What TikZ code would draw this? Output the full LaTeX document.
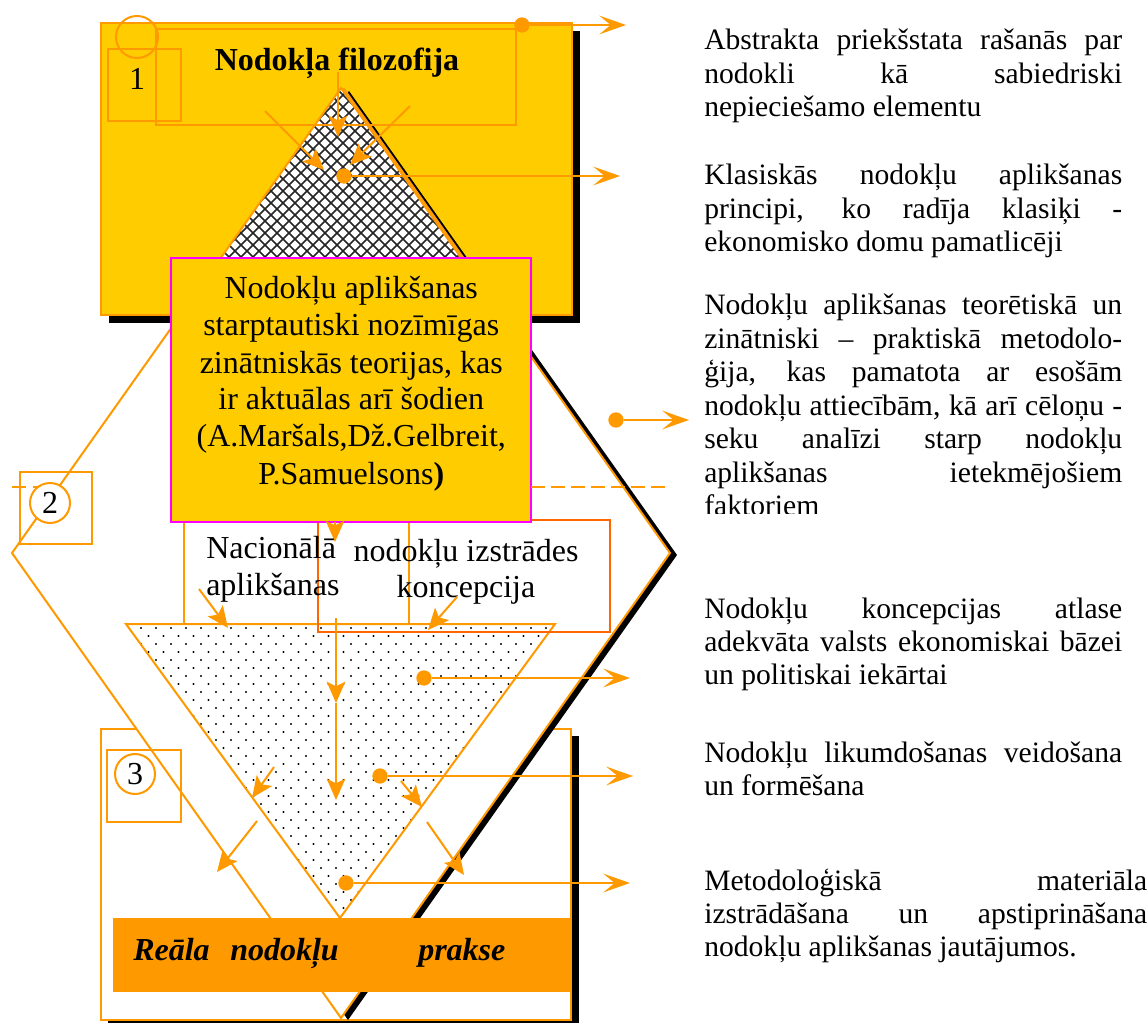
\documentclass[tikz,border=0pt]{standalone}
\usepackage{fontspec}
\setmainfont{Liberation Serif}
\usetikzlibrary{arrows.meta}
\definecolor{yel}{HTML}{FFCC00}
\definecolor{org}{HTML}{FF9900}
\definecolor{redo}{HTML}{FF6600}
\definecolor{mag}{HTML}{FF00FF}
\newdimen\colw
\newcommand\jrow[1]{\hbox to\colw{#1}}
\newcommand\lastrow[1]{\hbox{#1}}
\newcommand\crow[1]{\hbox to\colw{\hfil#1\hfil}}

\begin{document}
\begin{tikzpicture}[x=0.75pt,y=-0.75pt,
  ln/.style={draw=org,line width=1.5pt},
  frame/.style={draw=org,line width=1.5pt},
  arr/.style={ln,-{Stealth[length=16pt,width=14pt,inset=3.5pt]}},
  farr/.style={ln,-{Stealth[length=20pt,width=14pt,inset=8.5pt]}},
  dot/.style={circle,fill=org,inner sep=0pt,minimum size=11.5pt},
  txt/.style={inner sep=0pt,font=\fontsize{22.2}{25.1}\selectfont},
  big/.style={inner sep=0pt,font=\fontsize{24}{27.75}\selectfont},
  bigb/.style={inner sep=0pt,font=\fontsize{24}{27.75}\selectfont\bfseries},
  bigbi/.style={inner sep=0pt,font=\fontsize{24}{27.75}\selectfont\bfseries\itshape},
  numc/.style={circle,draw=org,line width=1.5pt,inner sep=0pt,minimum size=30pt},
  hatch/.style={draw=black!85,line width=1.1pt},
]
\useasboundingbox (0,0) rectangle (1148,1023);

% ---------- block 3 frame (back layer) ----------
\fill[black] (108,736) rectangle (579,1030);
\draw[frame,fill=white] (101,729) rectangle (571,1020);

% ---------- large diamond with shadow ----------
\coordinate (dT) at (341,88);
\coordinate (dR) at (670,553);
\coordinate (dB) at (341,1018);
\coordinate (dL) at (12,553);
\fill[black] ([shift={(7,2)}]dT) -- ([shift={(7,2)}]dR) -- ([shift={(7,2)}]dB) -- ([shift={(7,2)}]dL) -- cycle;
\draw[ln,fill=white,line join=miter] (dT) -- (dR) -- (dB) -- (dL) -- cycle;

% ---------- block 1: yellow panel ----------
\fill[black] (109,31) rectangle (580,323);
\draw[frame,fill=yel] (101,23) rectangle (572,315);

% hatched pyramid with shadow and double edge
\coordinate (hT) at (341,88);
\coordinate (hR) at (499.5,312);
\coordinate (hL) at (182.5,312);
\fill[black] ([shift={(8,3)}]hT) -- ([shift={(8,3)}]hR) -- ([shift={(8,3)}]hL) -- cycle;
\draw[ln,fill=white] ([shift={(3,1)}]hT) -- ([shift={(3,1)}]hR) -- ([shift={(3,1)}]hL) -- cycle;
\begin{scope}
  \clip (hT) -- (hR) -- (hL) -- cycle;
  \fill[white] (hT) -- (hR) -- (hL) -- cycle;
  \foreach \c in {-60,-48,...,510} \draw[hatch] (\c,88) -- ++(240,240);
  \foreach \c in {170,182,...,740} \draw[hatch] (\c,88) -- ++(-240,240);
\end{scope}
\draw[ln] (hT) -- (hR) -- (hL) -- cycle;

% frames inside block 1
\draw[frame] (156,29) rectangle (516,125);
\draw[frame] (108,49) rectangle (181,121);
\node[numc,minimum size=31.5pt] (c1) at (137,37) {};
\node[big,anchor=base] (n1) at (137,90) {1};
\node[bigb,anchor=base] (title) at (337,71) {Nodokļa filozofija};

% arrows converging on the pyramid
\coordinate (a1s) at (338,72);  \coordinate (a1e) at (338,137);
\coordinate (a2s) at (265,111); \coordinate (a2e) at (324,170);
\coordinate (a3s) at (410,106); \coordinate (a3e) at (350,165);
\draw[arr] (a1s) -- (a1e);
\draw[arr] (a2s) -- (a2e);
\draw[arr] (a3s) -- (a3e);

% ---------- dotted inverted pyramid ----------
\coordinate (vL) at (126,624);
\coordinate (vR) at (555,624);
\coordinate (vB) at (340,918);
\fill[white] (vL) -- (vR) -- (vB) -- cycle;
\begin{scope}
  \clip (vL) -- (vR) -- (vB) -- cycle;
  \foreach \r in {0,...,36}{
    \pgfmathsetmacro\yy{628+8*\r}
    \pgfmathsetmacro\xo{126+7.5*mod(\r,2)}
    \foreach \k in {0,...,28}{
      \fill[black] (\xo+15*\k,\yy) circle[radius=0.8pt];
    }
  }
\end{scope}
\draw[ln] (vL) -- (vR) -- (vB) -- cycle;

% frames of the national concept
\draw[frame] (184,480) rectangle (409,624);
\draw[draw=redo,line width=1.5pt] (318,520) rectangle (610,632);

% ---------- magenta theory panel ----------
\draw[draw=mag,line width=1.5pt,fill=yel] (171,258) rectangle (531,522);
\node[big,anchor=base west] (theory) at (171,299) {\colw=270pt\vtop{\baselineskip=27.75pt
  \crow{Nodokļu aplikšanas}
  \crow{starptautiski nozīmīgas}
  \crow{zinātniskās teorijas, kas}
  \crow{ir aktuālas arī šodien}
  \crow{(A.Maršals,Dž.Gelbreit,}
  \crow{P.Samuelsons\textbf{)}}}};

\coordinate (p1s) at (335,522); \coordinate (p1e) at (335,542);
\draw[arr] (p1s) -- (p1e);

\node[big,anchor=base west] (nac) at (206,558) {\vtop{\baselineskip=27.75pt
  \lastrow{Nacionālā}
  \lastrow{aplikšanas}}};
\node[big,anchor=base] (konc) at (466,561) {\colw=200pt\vtop{\baselineskip=27pt
  \crow{nodokļu izstrādes}
  \crow{koncepcija}}};

% arrows into the inverted pyramid
\coordinate (b1s) at (199,589); \coordinate (b1e) at (228,628);
\coordinate (b2s) at (457,597); \coordinate (b2e) at (428,630);
\coordinate (v0) at (336,618);  \coordinate (v1) at (336,703); \coordinate (v2) at (336,800);
\draw[arr] (b1s) -- (b1e);
\draw[arr] (b2s) -- (b2e);
\draw[arr] (v0) -- (v1);
\draw[arr] (v1) -- (v2);

\coordinate (l1s) at (274,767); \coordinate (l1e) at (252,798);
\coordinate (l2s) at (401,781); \coordinate (l2e) at (422,807);
\coordinate (l3s) at (257,821); \coordinate (l3e) at (217,872);
\coordinate (l4s) at (427,822); \coordinate (l4e) at (464,875);
\draw[arr] (l1s) -- (l1e);
\draw[arr] (l2s) -- (l2e);
\draw[arr] (l3s) -- (l3e);
\draw[arr] (l4s) -- (l4e);

% ---------- practice band ----------
\fill[org] (113,918) rectangle (570,992);
\node[bigbi,anchor=base west] (prakse) at (133,960) {\rlap{Reāla}\hskip72.75pt\rlap{nodokļu}\hskip141pt prakse};

% ---------- level markers 2 and 3 ----------
\coordinate (dash1s) at (12,487);  \coordinate (dash1e) at (40,487);
\coordinate (dash2s) at (531,487); \coordinate (dash2e) at (666,487);
\draw[ln,dash pattern=on 10.5pt off 5pt] (dash1s) -- (dash1e);
\draw[ln,dash pattern=on 10.5pt off 4.5pt] (dash2s) -- (dash2e);
\draw[frame] (20,472) rectangle (92,544);
\node[numc,big,fill=white] (c2) at (50,503) {2};
\draw[frame] (107,750) rectangle (181,822);
\node[numc,big,fill=white] (c3) at (135,774) {3};

% ---------- outgoing arrows ----------
\node[dot] (d1) at (522,25) {};  \coordinate (e1) at (626,25);
\node[dot] (d2) at (344,176) {}; \coordinate (e2) at (620,176);
\node[dot] (d3) at (616,420) {}; \coordinate (e3) at (689,420);
\node[dot] (d4) at (424,678) {}; \coordinate (e4) at (630,678);
\node[dot] (d5) at (380,776) {}; \coordinate (e5) at (633,776);
\node[dot] (d6) at (346,883) {}; \coordinate (e6) at (630,883);
\draw[farr] (d1) -- (e1);
\draw[farr] (d2) -- (e2);
\draw[farr] (d3) -- (e3);
\draw[farr] (d4) -- (e4);
\draw[farr] (d5) -- (e5);
\draw[farr] (d6) -- (e6);

% ---------- descriptions ----------
\node[txt,anchor=base west] (t1) at (704,50) {\colw=313.5pt\vtop{\baselineskip=25.1pt
  \jrow{Abstrakta priekšstata rašanās par}
  \jrow{nodokli kā sabiedriski}
  \lastrow{nepieciešamo elementu}}};
\node[txt,anchor=base west] (t2) at (704,185) {\colw=313.5pt\vtop{\baselineskip=25.1pt
  \jrow{Klasiskās nodokļu aplikšanas}
  \jrow{principi, ko radīja klasiķi -}
  \lastrow{ekonomisko domu pamatlicēji}}};
\begin{scope}
  \clip (690,280) rectangle (1148,513);
  \node[txt,anchor=base west] (t3) at (704,315) {\colw=313.5pt\vtop{\baselineskip=25.1pt
    \jrow{Nodokļu aplikšanas teorētiskā un}
    \jrow{zinātniski -- praktiskā metodolo-}
    \jrow{ģija, kas pamatota ar esošām}
    \jrow{nodokļu attiecībām, kā arī cēloņu -}
    \jrow{seku analīzi starp nodokļu}
    \jrow{aplikšanas ietekmējošiem}
    \lastrow{faktoriem}}};
\end{scope}
\node[txt,anchor=base west] (t4) at (704,618) {\colw=313.5pt\vtop{\baselineskip=25.1pt
  \jrow{Nodokļu koncepcijas atlase}
  \jrow{adekvāta valsts ekonomiskai bāzei}
  \lastrow{un politiskai iekārtai}}};
\node[txt,anchor=base west] (t5) at (704,762) {\colw=313.5pt\vtop{\baselineskip=25.1pt
  \jrow{Nodokļu likumdošanas veidošana}
  \lastrow{un formēšana}}};
\node[txt,anchor=base west] (t6) at (704,890) {\colw=332.25pt\vtop{\baselineskip=25.1pt
  \jrow{Metodoloģiskā materiāla}
  \jrow{izstrādāšana un apstiprināšana}
  \lastrow{nodokļu aplikšanas jautājumos.}}};
\end{tikzpicture}
\end{document}
